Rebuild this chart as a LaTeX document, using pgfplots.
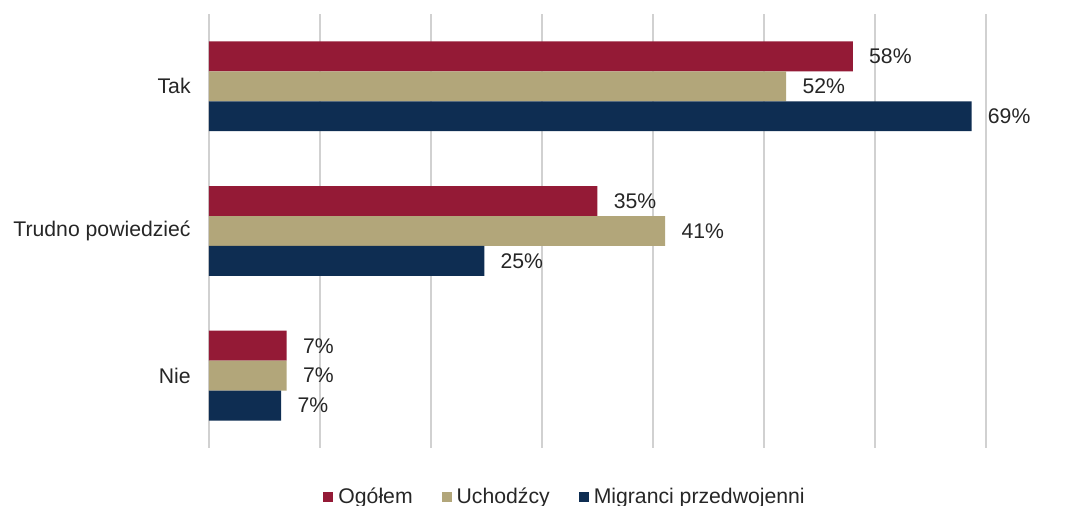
\documentclass[border=0pt]{standalone}
\usepackage{pgfplots}
\pgfplotsset{compat=1.18}
\usepackage{fontspec}
\setmainfont{Liberation Sans}
\definecolor{cred}{RGB}{148,26,54}
\definecolor{ctan}{RGB}{178,166,122}
\definecolor{cnavy}{RGB}{14,45,82}
\definecolor{ctext}{RGB}{38,38,38}
\begin{document}
\fontsize{10.6pt}{12.7pt}\selectfont
\begin{tikzpicture}
\useasboundingbox (-104.5pt,-29pt) rectangle (437.5pt,224pt);
\begin{axis}[
  at={(0pt,0pt)}, anchor=south west,
  scale only axis, width=388.5pt, height=217pt,
  xbar, bar width=0.207,
  xmin=0, xmax=70, ymin=-0.5, ymax=2.5,
  xtick={0,10,...,70}, xticklabels={},
  ytick={0,1,2}, yticklabels={Nie,Trudno powiedzieć,Tak},
  major tick length=0pt,
  axis line style={draw=none},
  xmajorgrids, grid style={color=black!18, line width=0.75pt},
  yticklabel style={inner sep=0pt, xshift=-9pt, text=ctext},
  point meta=x,
  nodes near coords={\pgfmathprintnumber[fixed,precision=0]{\pgfplotspointmeta}\%},
  nodes near coords style={anchor=west, inner sep=0pt, xshift=8pt, text=ctext},
  /pgf/number format/assume math mode=true,
  clip=false,
  legend columns=3,
  legend style={draw=none, fill=none, at={(axis description cs:0.457,-0.113)}, anchor=center,
    /tikz/every even column/.append style={column sep=14.5pt},
    nodes={inner sep=0pt, text=ctext}},
  legend image code/.code={\fill[#1] (0pt,-2.5pt) rectangle (5pt,2.5pt); \path (7.5pt,0pt);},
]
\addplot[fill=cred, draw=none, bar shift=0.207] coordinates {(58.0,2) (35.0,1) (7.0,0)};
\addplot[fill=ctan, draw=none, bar shift=0] coordinates {(52.0,2) (41.1,1) (7.0,0)};
\addplot[fill=cnavy, draw=none, bar shift=-0.207] coordinates {(68.7,2) (24.8,1) (6.5,0)};
\legend{Ogółem, Uchodźcy, Migranci przedwojenni}
\end{axis}
\end{tikzpicture}
\end{document}
